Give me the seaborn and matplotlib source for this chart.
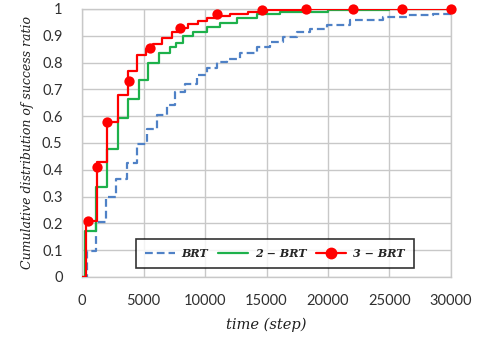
import matplotlib
matplotlib.use("Agg")
import matplotlib.pyplot as plt
from matplotlib.lines import Line2D
import seaborn as sns
import pandas as pd

# ---- data ----
brt_t = [0, 400, 1140, 1950, 2760, 3660, 4470, 5280, 6100, 6910, 7560, 8370, 9350,
         10160, 10980, 11790, 12850, 14230, 15280, 16340, 17480, 18540, 19920,
         21790, 24470, 26420, 28540, 30000]
brt_v = [0, 0.096, 0.205, 0.297, 0.364, 0.424, 0.498, 0.554, 0.604, 0.641, 0.691,
         0.722, 0.753, 0.778, 0.803, 0.815, 0.834, 0.859, 0.878, 0.896, 0.915,
         0.925, 0.94, 0.959, 0.971, 0.978, 0.981, 0.986]

brt2_t = [0, 250, 1140, 2030, 2930, 3740, 4630, 5370, 6260, 7150, 7640, 8200, 9000,
          10160, 11200, 12600, 14200, 16100, 20000, 25000, 30000]
brt2_v = [0, 0.17, 0.334, 0.477, 0.592, 0.664, 0.735, 0.797, 0.835, 0.86, 0.872,
          0.9, 0.915, 0.934, 0.949, 0.965, 0.98, 0.99, 0.995, 1.0, 1.0]

brt3_t = [0, 300, 1200, 2000, 2900, 3700, 4500, 5200, 5800, 6500, 7300, 7800, 8600,
          9400, 10200, 11000, 12000, 13500, 15000, 18000, 30000]
brt3_v = [0, 0.21, 0.43, 0.58, 0.68, 0.77, 0.83, 0.85, 0.87, 0.89, 0.915, 0.93,
          0.945, 0.955, 0.965, 0.975, 0.982, 0.99, 0.995, 1.0, 1.0]

brt3_mark_t = [500, 1200, 2000, 3800, 5500, 8000, 11000, 14600, 18200, 22000, 26000, 30000]
brt3_mark_v = [0.21, 0.41, 0.58, 0.73, 0.855, 0.93, 0.98, 0.995, 1.0, 1.0, 1.0, 1.0]

x_ticks = [0, 5000, 10000, 15000, 20000, 25000, 30000]
y_ticks = [0, 0.1, 0.2, 0.3, 0.4, 0.5, 0.6, 0.7, 0.8, 0.9, 1]
y_tick_labels = ["0", "0.1", "0.2", "0.3", "0.4", "0.5", "0.6", "0.7", "0.8", "0.9", "1"]
labels = ["BRT", "2 \u2212 BRT", "3 \u2212 BRT"]

c_blue = "#4f81c6"
c_green = "#1db14b"
c_red = "#ff0000"

sns.set_theme(style="white")
plt.rcParams["font.family"] = ["Lato", "DejaVu Sans"]

fig = plt.figure(figsize=(4.81, 3.38), dpi=100)
ax = fig.add_axes([82 / 481, 1 - 277 / 338, (451 - 82) / 481, (277 - 9) / 338])

d1 = pd.DataFrame({"t": brt_t, "v": brt_v})
d2 = pd.DataFrame({"t": brt2_t, "v": brt2_v})
d3 = pd.DataFrame({"t": brt3_t, "v": brt3_v})
dm = pd.DataFrame({"t": brt3_mark_t, "v": brt3_mark_v})

sns.lineplot(data=d1, x="t", y="v", ax=ax, color=c_blue, lw=1.6, drawstyle="steps-post",
             dashes=False, linestyle=(0, (3.5, 1.8)), legend=False, zorder=3)
sns.lineplot(data=d2, x="t", y="v", ax=ax, color=c_green, lw=1.6, drawstyle="steps-post",
             legend=False, zorder=4)
sns.lineplot(data=d3, x="t", y="v", ax=ax, color=c_red, lw=1.6, drawstyle="steps-post",
             legend=False, zorder=5)
sns.scatterplot(data=dm, x="t", y="v", ax=ax, color=c_red, s=55, edgecolor=c_red,
                linewidth=0, legend=False, zorder=6, clip_on=False)

ax.set_xlim(0, 30000)
ax.set_ylim(0, 1)
ax.set_xticks(x_ticks)
ax.set_xticklabels([str(t) for t in x_ticks])
ax.set_yticks(y_ticks)
ax.set_yticklabels(y_tick_labels)
ax.grid(True, color="#c8c8c8", lw=1.0)
ax.set_axisbelow(True)
for s in ax.spines.values():
    s.set_color("#c8c8c8")
    s.set_linewidth(1.0)
ax.tick_params(axis="both", length=0, labelsize=10.5, labelcolor="#303030")
ax.tick_params(axis="x", pad=12)
ax.tick_params(axis="y", pad=14)

ax.set_xlabel("time (step)", family="DejaVu Serif", style="italic", fontsize=10.5,
              color="#202020", labelpad=7)
ax.set_ylabel("Cumulative distribution of success ratio", family="DejaVu Serif",
              style="italic", fontsize=9, color="#202020", labelpad=6)

handles = [
    Line2D([], [], color=c_blue, lw=1.6, linestyle=(0, (3.5, 1.8))),
    Line2D([], [], color=c_green, lw=1.6),
    Line2D([], [], color=c_red, lw=1.6, marker="o", markersize=7.5),
]
leg = ax.legend(handles, labels, loc="lower left", bbox_to_anchor=(48 / 369, 3 / 268),
                ncol=3, frameon=True, fancybox=False, edgecolor="black",
                prop={"family": "DejaVu Serif", "style": "italic", "weight": "bold", "size": 8},
                handlelength=2.7, columnspacing=0.9, borderpad=0.85, handletextpad=0.6)
leg.get_frame().set_linewidth(1.2)
leg.set_zorder(10)

fig.savefig("out.png", dpi=100)
